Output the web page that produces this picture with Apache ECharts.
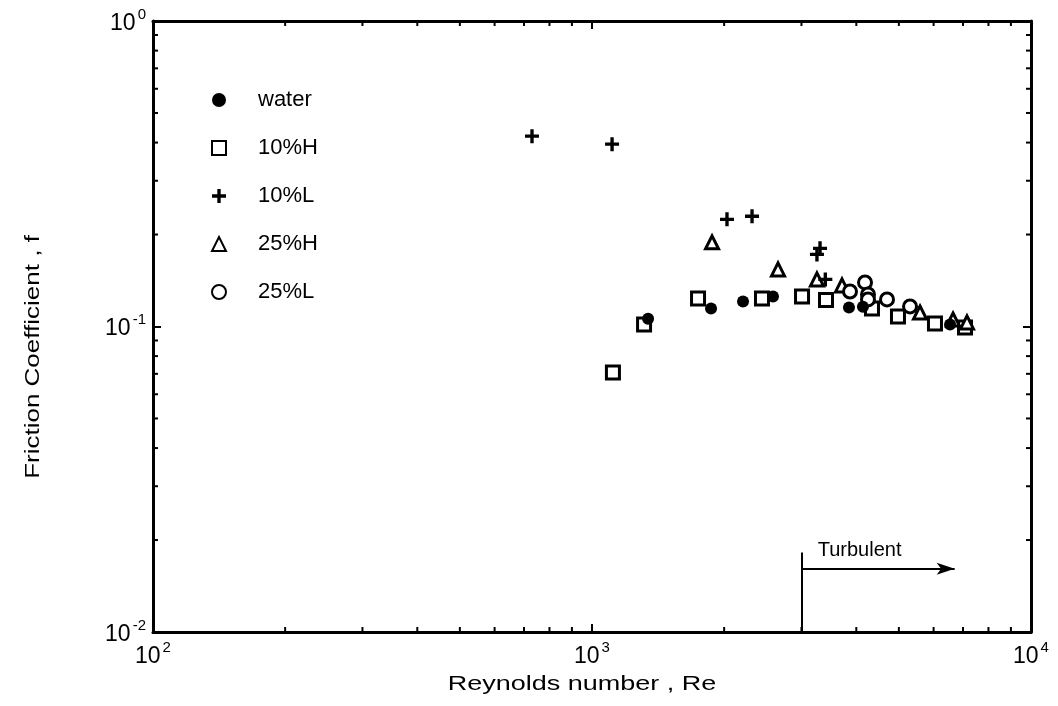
<!DOCTYPE html>
<html>
<head>
<meta charset="utf-8">
<script src="https://cdn.jsdelivr.net/npm/echarts@6/dist/echarts.min.js"></script>
<style>html,body{margin:0;padding:0;background:#fff;}#chart{width:1058px;height:706px;}</style>
</head>
<body>
<div id="chart"></div>
<script>
// ---- data ----
const xTicks = [100, 1000, 10000];
const xTickExps = ['2', '3', '4'];
const yTicks = [0.01, 0.1, 1];
const yTickExps = ['-2', '-1', '0'];
const xMinorTicks = [200, 300, 400, 500, 600, 700, 800, 900, 2000, 3000, 4000, 5000, 6000, 7000, 8000, 9000];
const yMinorTicks = [0.02, 0.03, 0.04, 0.05, 0.06, 0.07, 0.08, 0.09, 0.2, 0.3, 0.4, 0.5, 0.6, 0.7, 0.8, 0.9];

const seriesNames = ['water', '10%H', '10%L', '25%H', '25%L'];
const water = [[1342, 0.106], [1867, 0.1146], [2208, 0.1208], [2584, 0.1254], [3849, 0.1154], [4142, 0.116], [6540, 0.1015]];
const tenH = [[1116, 0.0707], [1314, 0.1015], [1744, 0.1235], [2439, 0.1235], [3009, 0.1254], [3412, 0.122], [4343, 0.1146], [4977, 0.1079], [6043, 0.1023], [7074, 0.0992]];
const tenL = [[730, 0.4198], [1111, 0.3952], [2030, 0.2243], [2315, 0.2295], [3254, 0.1722], [3307, 0.1802], [3400, 0.1426]];
const twentyFiveH = [[1877, 0.1886], [2653, 0.1538], [3254, 0.1426], [3711, 0.1363], [5587, 0.1111], [6643, 0.1054], [7148, 0.1031]];
const twentyFiveL = [[3870, 0.1302], [4187, 0.1394], [4253, 0.1273], [4253, 0.1226], [4699, 0.1226], [5302, 0.1163]];

const turbulentRe = 3000;
const turbulentArrowEndRe = 6700;
const turbulentLineTopF = 0.0182;
const turbulentArrowF = 0.0161;
const turbulentTextRe = 4070;
const turbulentTextF = 0.0185;
const turbulentLabel = 'Turbulent';
const xTitle = 'Reynolds number , Re';
const yTitle = 'Friction Coefficient , f';

// ---- chart ----
const FONT = '"Liberation Sans", Arial, Helvetica, sans-serif';
const chart = echarts.init(document.getElementById('chart'), null, {renderer: 'canvas'});

function expLabel(ticks, exps) {
  return function (v) {
    for (let i = 0; i < ticks.length; i++) {
      if (Math.abs(v - ticks[i]) / ticks[i] < 1e-6) return '{b|10}{s|' + exps[i] + '}';
    }
    return '';
  };
}
const labelRich = {
  b: {fontSize: 23, fontFamily: FONT, color: '#000', verticalAlign: 'bottom', lineHeight: 28},
  s: {fontSize: 15, fontFamily: FONT, color: '#000', verticalAlign: 'top', lineHeight: 28, padding: [0, 0, 0, 2]}
};

const axisLineStyle = {color: '#000', width: 3};
const plusPath = 'path://M3.8,0H6.2V3.8H10V6.2H6.2V10H3.8V6.2H0V3.8H3.8Z';

const option = {
  backgroundColor: '#fff',
  animation: false,
  grid: {left: 153, right: 27, top: 21, bottom: 74, containLabel: false},
  legend: {
    orient: 'vertical',
    left: 206,
    top: 82,
    itemWidth: 14,
    itemHeight: 14,
    itemGap: 22,
    data: seriesNames,
    textStyle: {fontFamily: FONT, fontSize: 22, color: '#000', lineHeight: 26, padding: [0, 0, 0, 27]},
    selectedMode: false
  },
  xAxis: [
    {
      type: 'log', logBase: 10, min: 100, max: 10000, splitNumber: 2, position: 'bottom',
      axisLine: {lineStyle: axisLineStyle},
      axisTick: {show: true, inside: true, length: 8, lineStyle: {color: '#000', width: 2}},
      axisLabel: {formatter: expLabel(xTicks, xTickExps), rich: labelRich, margin: 8},
      splitLine: {show: false}, minorTick: {show: false}
    },
    {
      type: 'log', logBase: 10, min: 100, max: 10000, splitNumber: 2, position: 'top',
      axisLine: {lineStyle: axisLineStyle},
      axisTick: {show: true, inside: true, length: 8, lineStyle: {color: '#000', width: 2}},
      axisLabel: {show: false}, splitLine: {show: false}
    }
  ],
  yAxis: [
    {
      type: 'log', logBase: 10, min: 0.01, max: 1, splitNumber: 2, position: 'left',
      axisLine: {lineStyle: axisLineStyle},
      axisTick: {show: true, inside: true, length: 8, lineStyle: {color: '#000', width: 2}},
      axisLabel: {formatter: expLabel(yTicks, yTickExps), rich: labelRich, margin: 7},
      splitLine: {show: false}
    },
    {
      type: 'log', logBase: 10, min: 0.01, max: 1, splitNumber: 2, position: 'right',
      axisLine: {lineStyle: axisLineStyle},
      axisTick: {show: true, inside: true, length: 8, lineStyle: {color: '#000', width: 2}},
      axisLabel: {show: false}, splitLine: {show: false}
    }
  ],
  graphic: [
    {type: 'text', x: 582, y: 684, scaleX: 1.35, silent: true,
      style: {text: xTitle, font: '20px ' + FONT, fill: '#000', align: 'center', verticalAlign: 'middle'}},
    {type: 'text', x: 33, y: 357, rotation: Math.PI / 2, scaleX: 1.3, silent: true,
      style: {text: yTitle, font: '20px ' + FONT, fill: '#000', align: 'center', verticalAlign: 'middle'}}
  ],
  series: [
    {
      name: 'ticksX', type: 'custom', silent: true, z: 1,
      data: xMinorTicks.map(v => [v, 0.1]),
      renderItem: function (params, api) {
        const v = api.value(0);
        const b = api.coord([v, 0.01]);
        const t = api.coord([v, 1]);
        return {type: 'group', children: [
          {type: 'line', shape: {x1: b[0], y1: b[1], x2: b[0], y2: b[1] - 5}, style: {stroke: '#000', lineWidth: 2}},
          {type: 'line', shape: {x1: t[0], y1: t[1], x2: t[0], y2: t[1] + 5}, style: {stroke: '#000', lineWidth: 2}}
        ]};
      }
    },
    {
      name: 'ticksY', type: 'custom', silent: true, z: 1,
      data: yMinorTicks.map(v => [1000, v]),
      renderItem: function (params, api) {
        const v = api.value(1);
        const l = api.coord([100, v]);
        const r = api.coord([10000, v]);
        return {type: 'group', children: [
          {type: 'line', shape: {x1: l[0], y1: l[1], x2: l[0] + 5, y2: l[1]}, style: {stroke: '#000', lineWidth: 2}},
          {type: 'line', shape: {x1: r[0], y1: r[1], x2: r[0] - 5, y2: r[1]}, style: {stroke: '#000', lineWidth: 2}}
        ]};
      }
    },
    {
      name: 'turbulent', type: 'scatter', data: [], silent: true,
      markLine: {
        silent: true, animation: false,
        lineStyle: {color: '#000', width: 2, type: 'solid', opacity: 1},
        label: {show: false},
        symbolSize: [9, 18],
        data: [
          [{coord: [turbulentRe, 0.01], symbol: 'none'}, {coord: [turbulentRe, turbulentLineTopF], symbol: 'none'}],
          [{coord: [turbulentRe, turbulentArrowF], symbol: 'none'}, {coord: [turbulentArrowEndRe, turbulentArrowF], symbol: 'arrow'}]
        ]
      },
      markPoint: {
        silent: true, animation: false,
        symbol: 'circle', symbolSize: 0,
        label: {show: true, formatter: turbulentLabel, color: '#000', fontFamily: FONT, fontSize: 20, position: 'inside'},
        data: [{coord: [turbulentTextRe, turbulentTextF]}]
      }
    },
    {
      name: '10%H', type: 'scatter', data: tenH, z: 3,
      symbol: 'rect', symbolSize: 13,
      itemStyle: {color: '#fff', borderColor: '#000', borderWidth: 3, opacity: 1}
    },
    {
      name: '25%H', type: 'scatter', data: twentyFiveH, z: 4,
      symbol: 'triangle', symbolSize: 13,
      itemStyle: {color: '#fff', borderColor: '#000', borderWidth: 3, opacity: 1}
    },
    {
      name: '25%L', type: 'scatter', data: twentyFiveL, z: 5,
      symbol: 'circle', symbolSize: 13,
      itemStyle: {color: '#fff', borderColor: '#000', borderWidth: 3, opacity: 1}
    },
    {
      name: '10%L', type: 'scatter', data: tenL, z: 6,
      symbol: plusPath, symbolSize: 14,
      itemStyle: {color: '#000', opacity: 1}
    },
    {
      name: 'water', type: 'scatter', data: water, z: 7,
      symbol: 'circle', symbolSize: 12,
      itemStyle: {color: '#000', opacity: 1}
    }
  ]
};
chart.setOption(option);
</script>
</body>
</html>
